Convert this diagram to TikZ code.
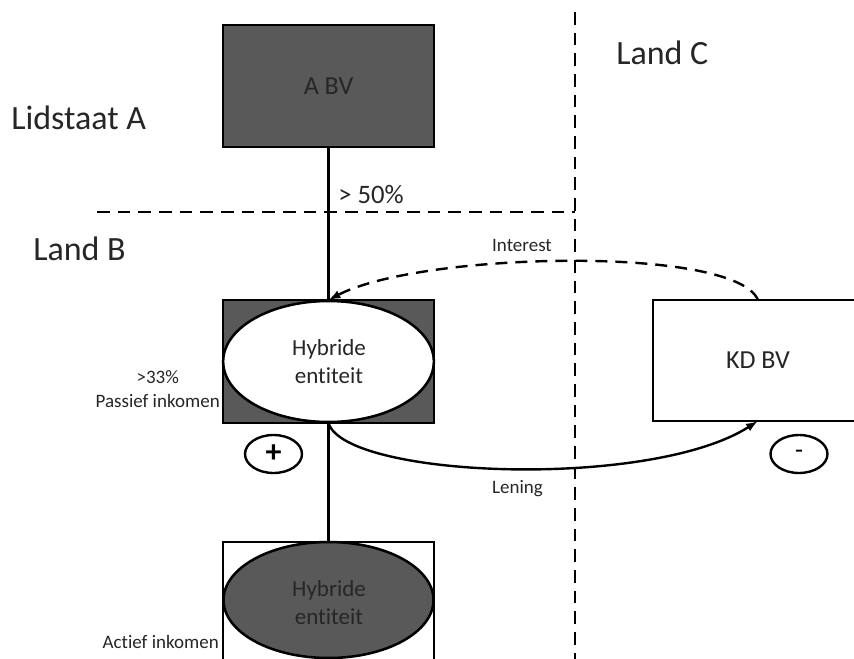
\documentclass[tikz,border=0pt]{standalone}
\usepackage{fontspec}
\setmainfont{Carlito}[Ligatures=NoCommon]
\usetikzlibrary{shapes.geometric,arrows.meta}
\definecolor{boxgray}{HTML}{595959}
\definecolor{txt}{HTML}{262626}
\begin{document}
\begin{tikzpicture}[x=0.75pt,y=-0.75pt,
  line width=1.9pt,
  entity/.style={draw=black,rectangle,inner sep=0pt,outer sep=0pt,
    minimum width=158.25pt},
  blob/.style={draw=black,ellipse,inner sep=0pt,outer sep=0pt},
  sign/.style={draw=black,ellipse,inner sep=0pt,minimum width=42.75pt,
    minimum height=28.5pt,line width=1.8pt},
  border/.style={dash pattern=on 9.5pt off 6pt,line width=1.9pt},
  region/.style={font=\fontsize{25.5}{30}\selectfont,text=txt,inner sep=0pt},
  small/.style={font=\fontsize{14.25}{18}\selectfont,text=txt,inner sep=0pt},
  flow/.style={line width=1.8pt,-{Latex[length=9pt,width=6.5pt]}}]
\useasboundingbox (0,0) rectangle (854,658);
\clip (0,0) rectangle (854,658);

% country borders
\coordinate (bl) at (97,212);
\coordinate (bc) at (575,212);
\coordinate (vt) at (575,12);
\coordinate (vb) at (575,660);
\draw[border] (vt) -- (vb);
\draw[border] (bl) -- (bc);

% region labels
\node[region,anchor=base west] (lidA) at (10,129) {Lidstaat A};
\node[region,anchor=base west] (landB) at (32,260) {Land B};
\node[region,anchor=base west] (landC) at (615,64) {Land C};

% entities
\node[entity,fill=boxgray,minimum height=91.5pt,
  font=\fontsize{19.5}{23}\selectfont,text=txt] (abv) at (328.5,86) {A BV};

\node[entity,fill=boxgray,minimum height=92.25pt] (hyb) at (328.5,361.5) {};
\node[blob,fill=white,minimum width=158pt,minimum height=90.75pt] (hybE) at (328.5,361.5) {};
\node[align=center,font=\fontsize{17.25}{21}\selectfont,text=txt] (hybT) at (329,362) {Hybride\\entiteit};

\node[entity,fill=white,minimum height=97.5pt] (hyb2) at (328.5,607) {};
\node[blob,fill=boxgray,minimum width=157.5pt,minimum height=87pt] (hyb2E) at (328.5,600) {};
\node[align=center,font=\fontsize{17.25}{21}\selectfont,text=txt] (hyb2T) at (329,603) {Hybride\\entiteit};

\node[entity,fill=white,minimum width=157.5pt,minimum height=90.75pt,
  font=\fontsize{19.5}{23}\selectfont,text=txt] (kd) at (758,360.5) {KD BV};

% ownership lines
\draw (abv.south) -- (hyb.north);
\draw (hyb.south) -- (hyb2.north);
\node[anchor=base west,inner sep=0pt,font=\fontsize{20}{24}\selectfont,text=txt] (pct) at (337,203) {> 50\%};

% side notes
\node[small,align=center,anchor=east] (passief) at (221,389) {>33\%\\Passief inkomen};
\node[small,anchor=base east] (actief) at (220,648) {Actief inkomen};

% signs
\node[sign,font=\bfseries\fontsize{24}{26}\selectfont] (plus) at (273.5,454) {+};
\node[sign,font=\fontsize{19.5}{22}\selectfont] (minus) at (799,454) {-};

% flows
\draw[flow,dash pattern=on 9pt off 6pt] (kd.north) .. controls (735,245) and (420,252) .. (hyb.north);
\node[small,anchor=base] (intLbl) at (522,251) {Interest};
\draw[flow] (hyb.south) .. controls (345,478) and (650,490) .. (kd.south);
\node[small,anchor=base] (lenLbl) at (517.5,493) {Lening};
\end{tikzpicture}
\end{document}
